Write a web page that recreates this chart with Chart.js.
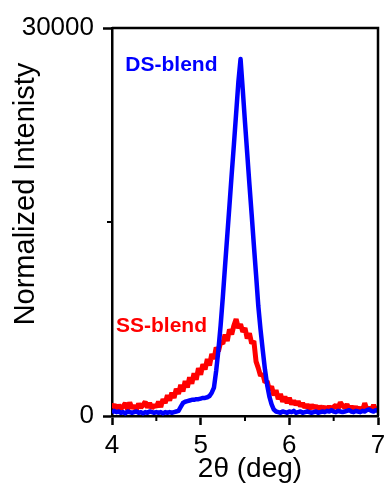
<!DOCTYPE html>
<html lang="en">
<head>
  <meta charset="UTF-8" />
  <title>DS-blend vs SS-blend</title>
  <script src="https://cdn.jsdelivr.net/npm/chart.js"></script>
  <style>
    * { box-sizing: border-box; }
    body { margin: 0; background: #fff; overflow: hidden; }
    .chart-box { width: 384px; height: 483px; position: relative; }
  </style>
</head>
<body>
  <div class="chart-box"><canvas id="xrdChart"></canvas></div>

  <script>
    // sampling grid of the scans (deg)
    const thetaStart = 4;
    const thetaStep = 0.025;

    // intensities, one value per grid step (4.000 ... 7.000)
    const dsBlend = [
      250, 400, 300, 350, 250, 300, 200, 350, 300, 250,
      300, 350, 250, 300, 200, 300, 250, 350, 300, 250,
      300, 250, 300, 200, 300, 250, 300, 250, 300, 350,
      400, 700, 1000, 1100, 1150, 1200, 1250, 1250, 1300, 1300,
      1350, 1400, 1400, 1450, 1550, 1800, 2200, 3500, 5100, 7000,
      9200, 11600, 13950, 16300, 18700, 21000, 23400, 25800, 27600, 25200,
      22700, 20300, 17900, 15600, 13200, 10900, 8500, 6700, 5100, 3600,
      2400, 1500, 900, 500, 350, 300, 250, 350, 300, 250,
      350, 300, 400, 250, 300, 350, 250, 300, 350, 300,
      250, 300, 350, 250, 300, 350, 300, 400, 350, 450,
      350, 300, 400, 350, 300, 350, 400, 450, 350, 300,
      400, 350, 300, 400, 350, 450, 500, 400, 350, 450,
      400
    ];
    const ssBlend = [
      600, 900, 500, 850, 550, 750, 1000, 500, 1050, 600,
      800, 500, 950, 650, 850, 1100, 650, 1000, 600, 850,
      700, 1100, 700, 1300, 1000, 1600, 1200, 1800, 1400, 2100,
      1700, 2400, 1900, 2700, 2200, 3000, 2500, 3300, 2800, 3700,
      3200, 4000, 3600, 4400, 3900, 4800, 4400, 5300, 5000, 5700,
      5600, 6300, 5800, 6700, 6300, 7000, 7500, 6800, 7100, 6500,
      6800, 6000, 6400, 5600, 5800, 4200, 3700, 3100, 3300, 2600,
      2700, 2000, 2300, 1600, 2000, 1300, 1700, 1100, 1500, 1000,
      1400, 900, 1200, 850, 1150, 750, 1000, 650, 900, 550,
      850, 600, 800, 500, 750, 550, 700, 450, 750, 500,
      700, 850, 550, 1050, 800, 650, 900, 550, 750, 500,
      700, 450, 650, 400, 1000, 500, 650, 400, 850, 450,
      600
    ];

    const seriesNames = ['DS-blend', 'SS-blend'];
    const seriesColors = ['#0000ff', '#ff0000'];
    const xTicks = [4, 5, 6, 7];
    const xMinorTicks = [4.5, 5.5, 6.5];
    const yTicks = [0, 30000];
    const yMinorTicks = [15000];
    const xTitle = '2θ (deg)';
    const yTitle = 'Normalized Intenisty';

    const toPoints = vals => vals.map((v, i) => ({ x: thetaStart + i * thetaStep, y: v }));

    // frame, minor ticks, axis titles and in-plot series labels
    const decorations = {
      id: 'decorations',
      afterDraw(chart) {
        const { ctx, chartArea: a, scales: { x, y } } = chart;
        ctx.save();
        ctx.strokeStyle = '#000';
        ctx.lineWidth = 2.5;
        ctx.beginPath();
        ctx.moveTo(a.left, a.top);
        ctx.lineTo(a.right, a.top);
        ctx.lineTo(a.right, a.bottom);
        ctx.stroke();

        ctx.lineWidth = 2;
        xMinorTicks.forEach(v => {
          const px = x.getPixelForValue(v);
          ctx.beginPath();
          ctx.moveTo(px, a.bottom);
          ctx.lineTo(px, a.bottom + 5);
          ctx.stroke();
        });
        yMinorTicks.forEach(v => {
          const py = y.getPixelForValue(v);
          ctx.beginPath();
          ctx.moveTo(a.left - 5, py);
          ctx.lineTo(a.left, py);
          ctx.stroke();
        });

        ctx.fillStyle = '#000';
        ctx.font = '28px "Liberation Sans", Arial, sans-serif';
        ctx.textAlign = 'center';
        ctx.textBaseline = 'alphabetic';
        ctx.fillText(xTitle, 250, 477);

        ctx.save();
        ctx.font = '29px "Liberation Sans", Arial, sans-serif';
        ctx.translate(34, 194);
        ctx.rotate(-Math.PI / 2);
        ctx.fillText(yTitle, 0, 0);
        ctx.restore();

        ctx.font = 'bold 21px "Liberation Sans", Arial, sans-serif';
        ctx.textAlign = 'left';
        ctx.fillStyle = seriesColors[0];
        ctx.fillText(seriesNames[0], x.getPixelForValue(4.15), y.getPixelForValue(26650));
        ctx.fillStyle = seriesColors[1];
        ctx.fillText(seriesNames[1], x.getPixelForValue(4.045), y.getPixelForValue(6500));
        ctx.restore();
      }
    };

    new Chart(document.getElementById('xrdChart'), {
      type: 'line',
      data: {
        datasets: [
          {
            label: seriesNames[0],
            data: toPoints(dsBlend),
            borderColor: seriesColors[0],
            borderWidth: 4.5,
            borderJoinStyle: 'round',
            pointRadius: 0,
            tension: 0
          },
          {
            label: seriesNames[1],
            data: toPoints(ssBlend),
            borderColor: seriesColors[1],
            borderWidth: 5,
            borderJoinStyle: 'bevel',
            pointRadius: 0,
            tension: 0
          }
        ]
      },
      options: {
        responsive: true,
        maintainAspectRatio: false,
        animation: false,
        layout: { padding: { top: 28, right: 6, left: 0, bottom: 0 } },
        plugins: {
          legend: { display: false },
          tooltip: { enabled: false }
        },
        scales: {
          x: {
            type: 'linear',
            min: 4,
            max: 7,
            afterBuildTicks: s => { s.ticks = xTicks.map(v => ({ value: v })); },
            afterFit: s => { s.height = 67; s.paddingLeft = 0; s.paddingRight = 0; },
            grid: { drawOnChartArea: false, tickLength: 9, tickWidth: 2.5, tickColor: '#000' },
            border: { color: '#000', width: 2.5 },
            ticks: {
              color: '#000',
              padding: 5,
              maxRotation: 0,
              font: { family: '"Liberation Sans", Arial, sans-serif', size: 26 }
            }
          },
          y: {
            min: 0,
            max: 30000,
            afterBuildTicks: s => { s.ticks = yTicks.map(v => ({ value: v })); },
            afterFit: s => { s.width = 112; s.paddingTop = 0; s.paddingBottom = 0; },
            grid: { drawOnChartArea: false, tickLength: 9, tickWidth: 2.5, tickColor: '#000' },
            border: { color: '#000', width: 2.5 },
            ticks: {
              color: '#000',
              padding: 9,
              callback: v => String(v),
              font: { family: '"Liberation Sans", Arial, sans-serif', size: 26 }
            }
          }
        }
      },
      plugins: [decorations]
    });
  </script>
</body>
</html>
